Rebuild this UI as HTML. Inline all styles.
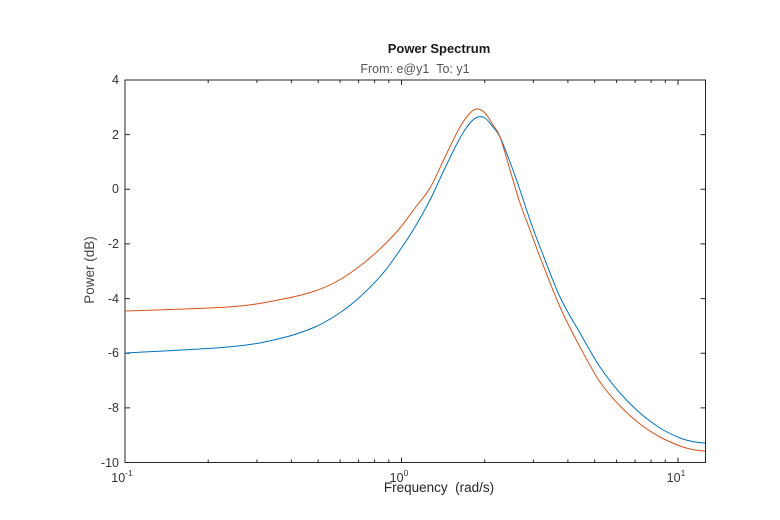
<!DOCTYPE html>
<html><head><meta charset="utf-8"><style>
html,body{margin:0;padding:0;background:#fff;}
svg{display:block;font-family:"Liberation Sans",Arial,sans-serif;}
</style></head><body>
<svg width="780" height="520" viewBox="0 0 780 520" xmlns="http://www.w3.org/2000/svg">
<rect width="780" height="520" fill="#fff"/>
<text x="439" y="53" font-size="13" font-weight="bold" text-anchor="middle" fill="#1a1a1a">Power Spectrum</text>
<text x="415" y="73" font-size="12.5" text-anchor="middle" fill="#555">From: e@y1&#160;&#160;To: y1</text>
<g stroke="#262626" stroke-width="1" fill="none">
<rect x="125" y="80" width="580.5" height="382.5"/>
<path d="M125,462.5v-5M208.2,462.5v-3M256.9,462.5v-3M291.4,462.5v-3M318.2,462.5v-3M340.1,462.5v-3M358.6,462.5v-3M374.6,462.5v-3M388.8,462.5v-3M401.5,462.5v-5M484.7,462.5v-3M533.4,462.5v-3M567.9,462.5v-3M594.7,462.5v-3M616.6,462.5v-3M635.1,462.5v-3M651.1,462.5v-3M665.3,462.5v-3M678,462.5v-5
M125,80v5M208.2,80v3M256.9,80v3M291.4,80v3M318.2,80v3M340.1,80v3M358.6,80v3M374.6,80v3M388.8,80v3M401.5,80v5M484.7,80v3M533.4,80v3M567.9,80v3M594.7,80v3M616.6,80v3M635.1,80v3M651.1,80v3M665.3,80v3M678,80v5"/>
<path d="M125,80h5M125,134.6h5M125,189.3h5M125,243.9h5M125,298.6h5M125,353.2h5M125,407.9h5M705.5,80h-5M705.5,134.6h-5M705.5,189.3h-5M705.5,243.9h-5M705.5,298.6h-5M705.5,353.2h-5M705.5,407.9h-5"/>
</g>
<g font-size="12.5" fill="#333" text-anchor="end">
<text x="119" y="84">4</text><text x="119" y="139">2</text><text x="119" y="193">0</text>
<text x="119" y="248">-2</text><text x="119" y="303">-4</text><text x="119" y="357">-6</text>
<text x="119" y="412">-8</text><text x="119" y="467">-10</text>
</g>
<g font-size="12.5" fill="#333" text-anchor="middle">
<text x="122" y="482">10<tspan font-size="8.5" dy="-6">-1</tspan></text>
<text x="399" y="482">10<tspan font-size="8.5" dy="-6">0</tspan></text>
<text x="676" y="482">10<tspan font-size="8.5" dy="-6">1</tspan></text>
</g>
<text x="439" y="492" font-size="13.5" text-anchor="middle" fill="#262626">Frequency&#160;&#160;(rad/s)</text>
<text transform="translate(94,270) rotate(-90)" font-size="13.5" text-anchor="middle" fill="#444">Power (dB)</text>
<path id="blue" fill="none" stroke="#0072BD" stroke-width="1" d=""/>
<path id="orange" fill="none" stroke="#D95319" stroke-width="1" d=""/>
</svg>
<script>
function cr(p){var d="M"+p[0][0]+","+p[0][1];for(var i=0;i<p.length-1;i++){var p0=p[i-1]||p[i],p1=p[i],p2=p[i+1],p3=p[i+2]||p2;
var c1x=p1[0]+(p2[0]-p0[0])/6,c1y=p1[1]+(p2[1]-p0[1])/6,c2x=p2[0]-(p3[0]-p1[0])/6,c2y=p2[1]-(p3[1]-p1[1])/6;
d+="C"+c1x.toFixed(1)+","+c1y.toFixed(1)+" "+c2x.toFixed(1)+","+c2y.toFixed(1)+" "+p2[0]+","+p2[1];}return d;}
var b=[[125,353],[228,347],[278,339],[315,327],[341,312],[362,295],[384,272],[400,250],[415,227],[430,200],[445,168],[460,138],[470,123],[478,117],[485,118],[493,127],[500,137],[510,162],[520,190],[530,220],[540,247],[560,297],[580,333],[600,367],[620,393],[640,413],[660,428],[680,438],[695,442],[705,443]];
var o=[[125,311],[228,307],[278,300],[315,291],[341,279],[365,262],[384,245],[400,228],[415,208],[430,188],[445,157],[460,127],[470,113],[477,109],[485,113],[493,125],[500,137],[510,170],[520,203],[530,230],[540,257],[560,307],[580,347],[600,382],[620,406],[640,424],[660,437],[680,446],[695,450],[705,451]];
document.getElementById("blue").setAttribute("d",cr(b));
document.getElementById("orange").setAttribute("d",cr(o));
</script>
</body></html>
